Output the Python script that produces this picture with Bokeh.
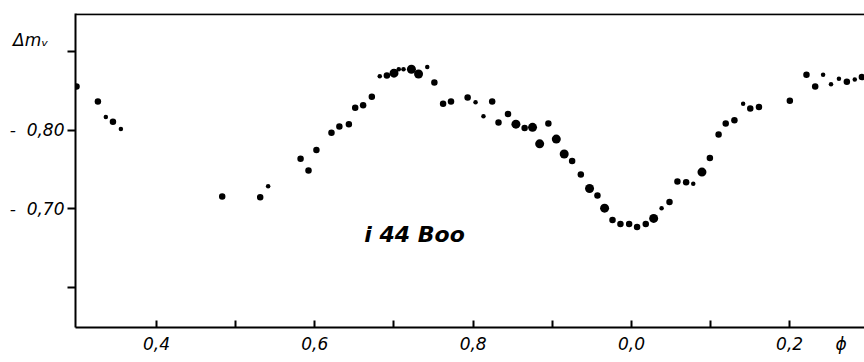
from bokeh.plotting import figure
from bokeh.models import Range1d, FixedTicker, Label, Span, ColumnDataSource
from bokeh.embed import file_html
from bokeh.resources import INLINE

# Phase (continued past 1.0 so that 0.0-0.3 follows 0.9) and delta m_V
phase = [0.299, 0.326, 0.336, 0.345, 0.355, 0.483, 0.531, 0.541, 0.582, 0.592,
         0.602, 0.621, 0.631, 0.643, 0.651, 0.661, 0.672, 0.682, 0.691, 0.700,
         0.706, 0.712, 0.722, 0.731, 0.742, 0.751, 0.762, 0.772, 0.793, 0.803,
         0.813, 0.824, 0.832, 0.844, 0.854, 0.865, 0.875, 0.884, 0.895, 0.905,
         0.915, 0.925, 0.936, 0.947, 0.957, 0.966, 0.976, 0.986, 0.997, 1.007,
         1.018, 1.028, 1.038, 1.048, 1.058, 1.069, 1.078, 1.089, 1.099, 1.110,
         1.119, 1.130, 1.141, 1.150, 1.161, 1.200, 1.221, 1.232, 1.242, 1.252,
         1.262, 1.272, 1.282, 1.291]
dmv = [-0.856, -0.837, -0.817, -0.811, -0.802, -0.716, -0.715, -0.729, -0.764, -0.749,
       -0.775, -0.797, -0.805, -0.808, -0.829, -0.832, -0.843, -0.869, -0.870, -0.873,
       -0.878, -0.878, -0.878, -0.872, -0.881, -0.861, -0.834, -0.837, -0.842, -0.836,
       -0.818, -0.837, -0.810, -0.821, -0.808, -0.803, -0.804, -0.783, -0.809, -0.789,
       -0.770, -0.761, -0.744, -0.726, -0.717, -0.701, -0.686, -0.681, -0.681, -0.677,
       -0.681, -0.688, -0.701, -0.709, -0.735, -0.734, -0.732, -0.747, -0.765, -0.795,
       -0.809, -0.813, -0.834, -0.828, -0.830, -0.838, -0.871, -0.856, -0.871, -0.859,
       -0.866, -0.862, -0.865, -0.868]
# point weight (dot size class in the original figure)
weight = [2, 2, 1, 2, 1, 2, 2, 1, 2, 2,
          2, 2, 2, 2, 2, 2, 2, 1, 2, 3,
          1, 1, 3, 3, 1, 2, 2, 2, 2, 1,
          1, 2, 2, 2, 3, 2, 3, 3, 2, 3,
          3, 2, 2, 3, 2, 3, 2, 2, 2, 2,
          2, 3, 1, 2, 2, 2, 1, 3, 2, 2,
          2, 2, 1, 2, 2, 2, 2, 2, 1, 1,
          1, 2, 1, 2]

NB = "\u00a0"
x_ticks = [0.4, 0.5, 0.6, 0.7, 0.8, 0.9, 1.0, 1.1, 1.2]
x_labels = {0.4: "0,4", 0.5: "", 0.6: "0,6", 0.7: "", 0.8: "0,8", 0.9: "",
            1.0: "0,0", 1.1: "", 1.2: NB * 8 + "0,2" + NB * 6 + "ϕ"}
y_ticks = [-0.9, -0.8, -0.7, -0.6]
y_labels = {-0.9: "Δmᵥ" + NB * 3 + "\n" + NB,
            -0.8: "-" + NB * 2 + "0,80", -0.7: "-" + NB * 2 + "0,70", -0.6: ""}

size_map = {1: 4.5, 2: 6.5, 3: 9}
sizes = [size_map[w] for w in weight]
src = ColumnDataSource(dict(x=phase, y=dmv, s=sizes))

W, H = 864, 362
X0, X1 = 0.2977, 1.2943
Y0, Y1 = -0.549, -0.949

p = figure(width=W, height=H, output_backend="svg", toolbar_location=None,
           x_range=Range1d(X0, X1), y_range=Range1d(Y0, Y1),
           min_border_left=75, min_border_right=0, min_border_top=13, min_border_bottom=35)
p.xgrid.visible = False
p.ygrid.visible = False
p.outline_line_color = None
p.background_fill_color = "white"
p.border_fill_color = "white"

p.scatter("x", "y", size="s", source=src, color="black", line_width=0)

for ax in (p.xaxis[0], p.yaxis[0]):
    ax.axis_line_width = 2
    ax.axis_line_color = "black"
    ax.major_tick_line_width = 2
    ax.major_tick_line_color = "black"
    ax.minor_tick_line_color = None
    ax.major_label_text_font = "DejaVu Sans"
    ax.major_label_text_font_style = "italic"
    ax.major_label_text_font_size = "17px"
    ax.major_label_text_color = "black"

p.xaxis[0].ticker = FixedTicker(ticks=x_ticks)
p.xaxis[0].major_label_overrides = x_labels
p.xaxis[0].major_tick_in = 7
p.xaxis[0].major_tick_out = 0
p.xaxis[0].major_label_standoff = 6

p.yaxis[0].ticker = FixedTicker(ticks=y_ticks)
p.yaxis[0].major_label_overrides = y_labels
p.yaxis[0].major_tick_in = 0
p.yaxis[0].major_tick_out = 8
p.yaxis[0].major_label_standoff = 3

p.add_layout(Span(location=Y1 + 0.001, dimension="width", line_color="black", line_width=2))

p.add_layout(Label(x=0.726, y=-0.6675, text="i 44 Boo", text_align="center",
                   text_baseline="middle", text_font="DejaVu Sans",
                   text_font_style="bold italic", text_font_size="22px", text_color="black"))

open("out.html", "w").write(file_html(p, INLINE))
